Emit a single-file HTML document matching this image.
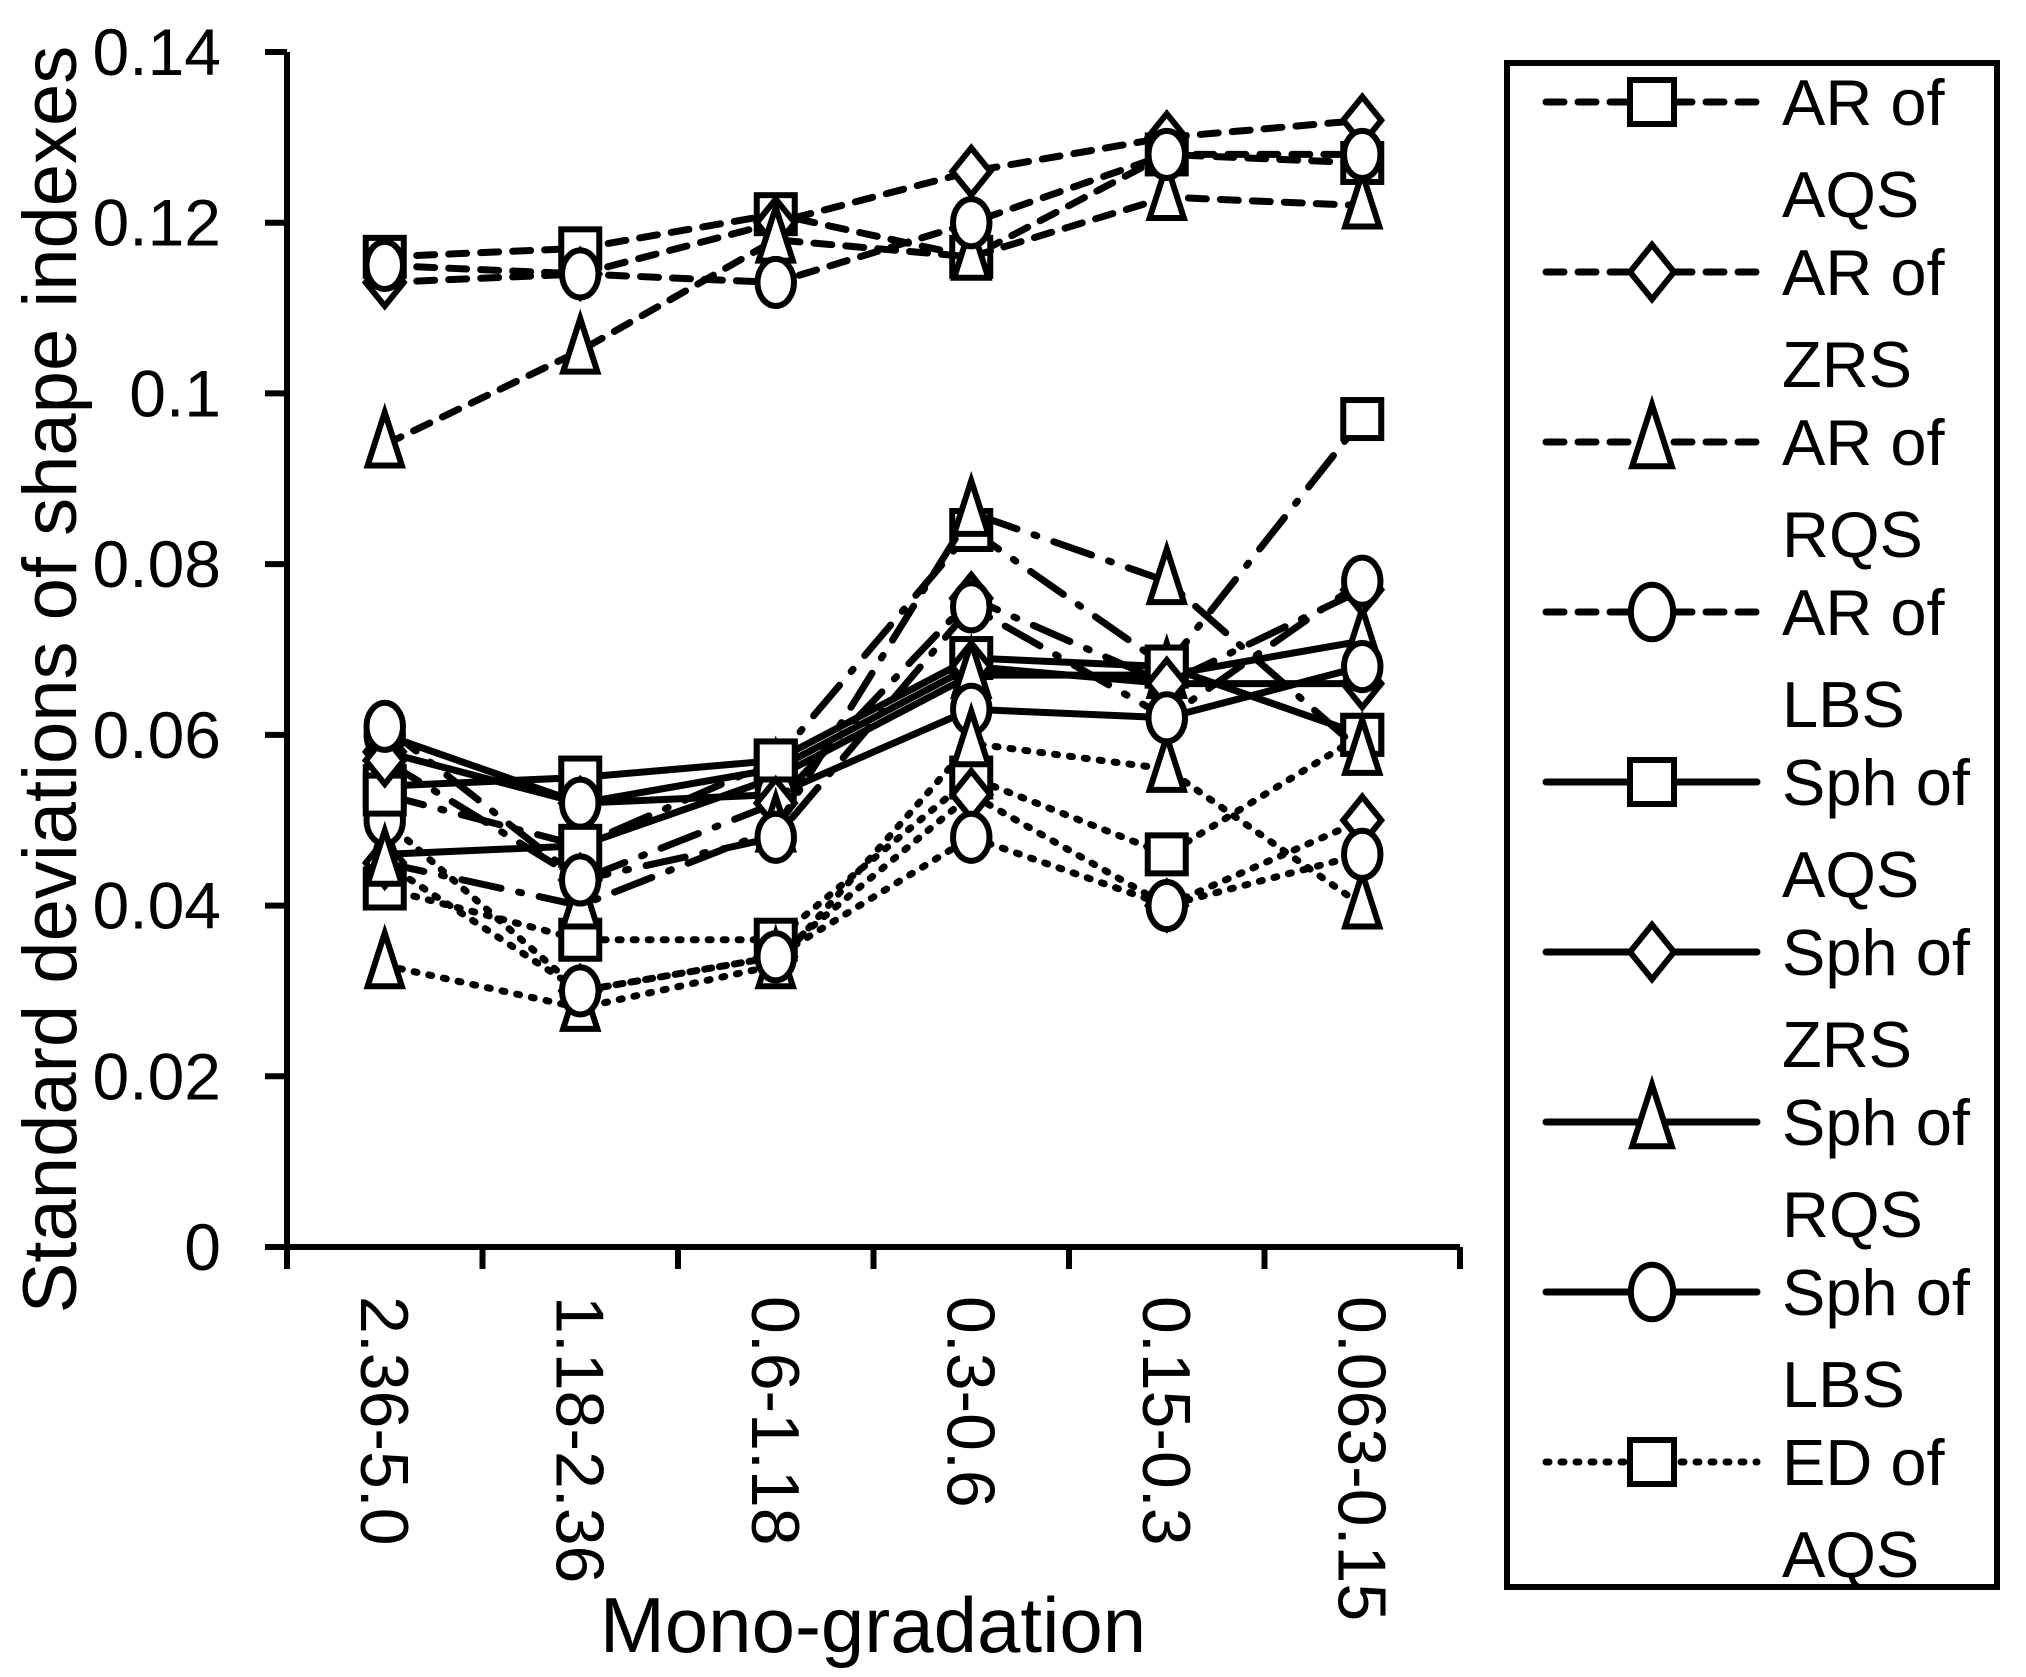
<!DOCTYPE html>
<html><head><meta charset="utf-8"><style>
html,body{margin:0;padding:0;background:#fff}
svg{display:block}
text{font-family:"Liberation Sans",sans-serif;fill:#000}
</style></head><body>
<svg id="chart" width="2026" height="1677" viewBox="0 0 2026 1677" xmlns="http://www.w3.org/2000/svg">
<g id="axes"></g>
<g id="series"></g>
<g id="legend"></g>
</svg>
<script>
const categories = ["2.36-5.0","1.18-2.36","0.6-1.18","0.3-0.6","0.15-0.3","0.063-0.15"];
const yTicks = [0,0.02,0.04,0.06,0.08,0.1,0.12,0.14];
const yTickLabels = ["0","0.02","0.04","0.06","0.08","0.1","0.12","0.14"];
const seriesNames = ["AR of AQS","AR of ZRS","AR of RQS","AR of LBS","Sph of AQS","Sph of ZRS","Sph of RQS","Sph of LBS","ED of AQS","ED of ZRS","ED of RQS","ED of LBS","Ro of AQS","Ro of ZRS","Ro of RQS","Ro of LBS"];
const arAQS = [0.116,0.117,0.121,0.116,0.128,0.127];
const arZRS = [0.113,0.114,0.120,0.126,0.130,0.132];
const arRQS = [0.094,0.105,0.118,0.116,0.123,0.122];
const arLBS = [0.115,0.114,0.113,0.120,0.128,0.128];
const sphAQS = [0.054,0.055,0.057,0.069,0.068,0.060];
const sphZRS = [0.058,0.052,0.056,0.068,0.066,0.066];
const sphRQS = [0.046,0.047,0.055,0.067,0.067,0.071];
const sphLBS = [0.060,0.052,0.053,0.063,0.062,0.068];
const edAQS = [0.042,0.036,0.036,0.055,0.046,0.060];
const edZRS = [0.045,0.030,0.034,0.053,0.040,0.050];
const edRQS = [0.033,0.028,0.033,0.059,0.056,0.040];
const edLBS = [0.050,0.030,0.034,0.048,0.040,0.046];
const roAQS = [0.053,0.047,0.057,0.084,0.068,0.097];
const roZRS = [0.057,0.043,0.052,0.076,0.066,0.077];
const roRQS = [0.045,0.040,0.049,0.086,0.078,0.058];
const roLBS = [0.061,0.043,0.048,0.075,0.062,0.078];
const seriesValues = [arAQS,arZRS,arRQS,arLBS,sphAQS,sphZRS,sphRQS,sphLBS,edAQS,edZRS,edRQS,edLBS,roAQS,roZRS,roRQS,roLBS];
const legendCount = 9;

const NS="http://www.w3.org/2000/svg";
const X0=287,X1=1460,Y0=1247,YT=52,YMAX=0.14;
const band=(X1-X0)/categories.length;
function xPos(i){return X0+band*(i+0.5);}
function yPos(v){return Y0-(v/YMAX)*(Y0-YT);}
function mk(tag,attrs,parent){const e=document.createElementNS(NS,tag);for(const k in attrs)e.setAttribute(k,attrs[k]);parent.appendChild(e);return e;}
const axes=document.getElementById('axes'),ser=document.getElementById('series'),leg=document.getElementById('legend');

let e=mk('line',{x1:X0,y1:YT,x2:X0,y2:Y0,stroke:'#000','stroke-width':6},axes);


e=mk('line',{x1:X0-3,y1:Y0,x2:X1,y2:Y0,stroke:'#000','stroke-width':6},axes);


yTicks.forEach((t,i)=>{
  const y=yPos(t);
  let tk=mk('line',{x1:X0-22,y1:y,x2:X0,y2:y,stroke:'#000','stroke-width':6},axes);
  
  
  let tx=mk('text',{x:X0-66,y:y+23,'text-anchor':'end','font-size':66},axes);
  tx.textContent=yTickLabels[i];
  
  
});
for(let i=0;i<=categories.length;i++){
  const x=X0+band*i;
  let tk=mk('line',{x1:x,y1:Y0,x2:x,y2:Y0+22,stroke:'#000','stroke-width':6},axes);
  
  
}
categories.forEach((c,i)=>{
  const x=xPos(i);
  let tx=mk('text',{x:0,y:0,'font-size':68,transform:`translate(${x-24},${1296}) rotate(90)`},axes);
  tx.textContent=c;
  
  
});
e=mk('text',{x:0,y:0,'font-size':76,'text-anchor':'middle',transform:`translate(76,${(YT+Y0)/2+30}) rotate(-90)`},axes);
e.textContent='Standard deviations of shape indexes';


e=mk('text',{x:873,y:1652,'font-size':78,'text-anchor':'middle'},axes);
e.textContent='Mono-gradation';



const dashes=['18 14','', '3 12','40 18 3 18'];
const shapes=['square','diamond','triangle','circle'];
function marker(shape,x,y,parent,s){
  const a={fill:'#fff',stroke:'#000','stroke-width':6};
  let m;
  if(shape==='square'){m=mk('rect',Object.assign({x:x-s/2,y:y-s/2,width:s,height:s},a),parent);}
  else if(shape==='diamond'){m=mk('polygon',Object.assign({points:`${x},${y-s*0.62} ${x+s*0.5},${y} ${x},${y+s*0.62} ${x-s*0.5},${y}`},a),parent);}
  else if(shape==='triangle'){m=mk('polygon',Object.assign({points:`${x},${y-s*0.85} ${x+s*0.45},${y+s*0.55} ${x-s*0.45},${y+s*0.55}`},a),parent);}
  else {m=mk('ellipse',Object.assign({cx:x,cy:y,rx:s*0.48,ry:s*0.62},a),parent);}
  return m;
}
seriesValues.forEach((vals,si)=>{
  const g=mk('g',{},ser);
  
  
  const pts=vals.map((v,i)=>xPos(i)+','+yPos(v)).join(' ');
  const ln=mk('polyline',{points:pts,fill:'none',stroke:'#000','stroke-width':7,'stroke-linecap':'round','stroke-dasharray':dashes[Math.floor(si/4)]},g);
  
  
  vals.forEach((v,i)=>{
    const m=marker(shapes[si%4],xPos(i),yPos(v),g,38);
    
    
  });
});
e=mk('rect',{x:1507,y:63,width:490,height:1524,fill:'#fff',stroke:'#000','stroke-width':6},leg);


for(let k=0;k<legendCount;k++){
  const y=102+k*170;
  const g=mk('g',{},leg);
  
  
  mk('line',{x1:1546,y1:y,x2:1757,y2:y,stroke:'#000','stroke-width':7,'stroke-linecap':'round','stroke-dasharray':dashes[Math.floor(k/4)]},g);
  marker(shapes[k%4],1652,y,g,44);
  const parts=seriesNames[k].split(' of ');
  let t1=mk('text',{x:1782,y:y+23,'font-size':65},g);t1.textContent=parts[0]+' of';
  let t2=mk('text',{x:1782,y:y+115,'font-size':65},g);t2.textContent=parts[1];
}
</script>
</body></html>
